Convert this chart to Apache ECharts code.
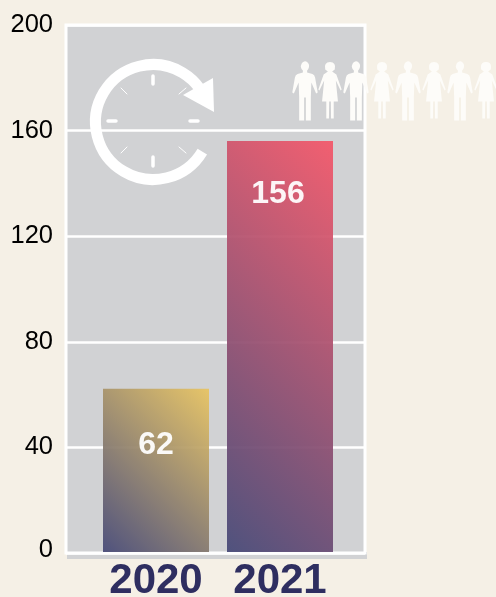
<!DOCTYPE html>
<html>
<head>
<meta charset="utf-8">
<style>
html, body { margin: 0; padding: 0; background: #f5f0e6; }
#chart { width: 496px; height: 597px; }
</style>
<script src="https://cdn.jsdelivr.net/npm/echarts@6/dist/echarts.min.js"></script>
</head>
<body>
<div id="chart"></div>
<script>
var years = ['2020', '2021'];
var counts = [62, 156];
var yTicks = [0, 40, 80, 120, 160, 200];
// top right colour of each bar, all of them start from the same navy
var barColors = ['#e8c462', '#f4586a'];
var barBase = '#474a78';

var FONT = '"Liberation Sans", Arial, sans-serif';

var manPath = 'M-2,-20 A3.7,5 0 1 1 2,-20 L2,-18 L7,-16.5 Q9,-16 9.5,-13 L12,2 L10.5,3 L6,-8 L5.5,7 L5.5,30 L0.8,30 L0.8,7 L-0.8,7 L-0.8,30 L-5.5,30 L-5.5,7 L-6,-8 L-10.5,3 L-12,2 L-9.5,-13 Q-9,-16 -7,-16.5 L-2,-18 Z';
var womanPath = 'M-4.5,-21 Q-6,-28.5 0,-28.5 Q6,-28.5 4.5,-21 L2,-19 L6,-16 L11,-1 L10,0 L5.5,-10 L7.5,11 L3.5,11 L3.5,28 L1,28 L0.8,11 L-0.8,11 L-1,28 L-3.5,28 L-3.5,11 L-7.5,11 L-5.5,-10 L-10,0 L-11,-1 L-6,-16 L-2,-19 Z';
echarts.graphic.registerShape('man', echarts.graphic.extendPath(manPath, {}));
echarts.graphic.registerShape('woman', echarts.graphic.extendPath(womanPath, {}));

function person(kind, x) {
    return { type: kind, x: x, y: 90.5, scaleX: 1.06, style: { fill: '#fdfcf9' }, z: 5 };
}

function tick(x1, y1, x2, y2, w) {
    return { type: 'line', shape: { x1: x1, y1: y1, x2: x2, y2: y2 }, style: { stroke: '#fff', lineWidth: w, lineCap: 'round' }, z: 5 };
}

var marks = [
    { type: 'arc', shape: { cx: 153, cy: 122, r: 57.5, startAngle: 0.54, endAngle: -0.63, clockwise: true }, style: { stroke: '#fff', fill: null, lineWidth: 11 }, z: 5 },
    { type: 'polygon', shape: { points: [[183, 95], [213, 78], [214, 112]] }, style: { fill: '#fff' }, z: 5 },
    tick(153, 76, 153, 84, 3.5), tick(153, 157, 153, 166, 3.5),
    tick(108, 121, 116, 121, 3.5), tick(190, 121, 198, 121, 3.5),
    tick(121, 88, 127, 94, 1), tick(186, 88, 179, 94, 1),
    tick(121, 153, 127, 147, 1), tick(186, 153, 179, 147, 1),
    { type: 'rect', shape: { x: 67, y: 552, width: 300, height: 7 }, style: { fill: '#d1d2d4' }, z: -1 }
];
[305, 330, 356, 382, 408, 434, 460, 486].forEach(function (x, i) {
    marks.push(person(i % 2 ? 'woman' : 'man', x));
});

// 45 degree gradient in page pixels, ends at the top right corner of the bar
function barGradient(left, v, color) {
    var h = v * 527 / 200;
    var a = (106 + h) / 2;
    return new echarts.graphic.LinearGradient(left, 552, left + a, 552 - a, [
        { offset: 0, color: barBase },
        { offset: 1, color: color }
    ], true);
}

var myChart = echarts.init(document.getElementById('chart'));

myChart.setOption({
    animation: false,
    backgroundColor: '#f5f0e6',
    grid: [
        // frame with the grey panel, carries the y axis
        { left: 66, width: 299, top: 25, height: 528, outerBoundsMode: 'none', show: true, backgroundColor: '#d1d2d4', borderWidth: 3, borderColor: '#fff' },
        // narrower grid so the two bars sit where they do in the picture
        { left: 94, width: 248, top: 25, height: 527, outerBoundsMode: 'none' }
    ],
    graphic: marks,
    xAxis: [
        { gridIndex: 0, type: 'category', data: years, axisLine: { show: false }, axisTick: { show: false }, axisLabel: { show: false } },
        {
            gridIndex: 1, type: 'category', data: years,
            axisLine: { show: false }, axisTick: { show: false },
            axisLabel: { color: '#2e2e60', fontFamily: FONT, fontWeight: 'bold', fontSize: 42, margin: 8 }
        }
    ],
    yAxis: [
        {
            gridIndex: 0, type: 'value', min: 0, max: 200, interval: 40,
            axisLine: { show: false },
            axisTick: { show: false },
            axisLabel: {
                color: '#000', fontFamily: FONT, fontSize: 25.5, margin: 13, customValues: yTicks,
                formatter: function (v) { return v === 0 ? '{low|0}' : String(v); },
                rich: { low: { color: '#000', fontFamily: FONT, fontSize: 25.5, padding: [0, 0, 6, 0] } }
            },
            splitLine: { lineStyle: { color: '#fff', width: 2.5 } }
        },
        { gridIndex: 1, type: 'value', min: 0, max: 200, show: false }
    ],
    series: [{
        type: 'bar',
        xAxisIndex: 1,
        yAxisIndex: 1,
        barWidth: 106,
        z: 3,
        label: {
            show: true, position: 'insideTop', distance: 37, color: '#fff',
            fontFamily: FONT, fontWeight: 'bold', fontSize: 32
        },
        data: counts.map(function (v, i) {
            return {
                value: v,
                label: { offset: i ? [-2, 0] : [0, 4] },
                itemStyle: { opacity: 0.94, color: barGradient([103, 227][i], v, barColors[i]) }
            };
        })
    }]
});
</script>
</body>
</html>
